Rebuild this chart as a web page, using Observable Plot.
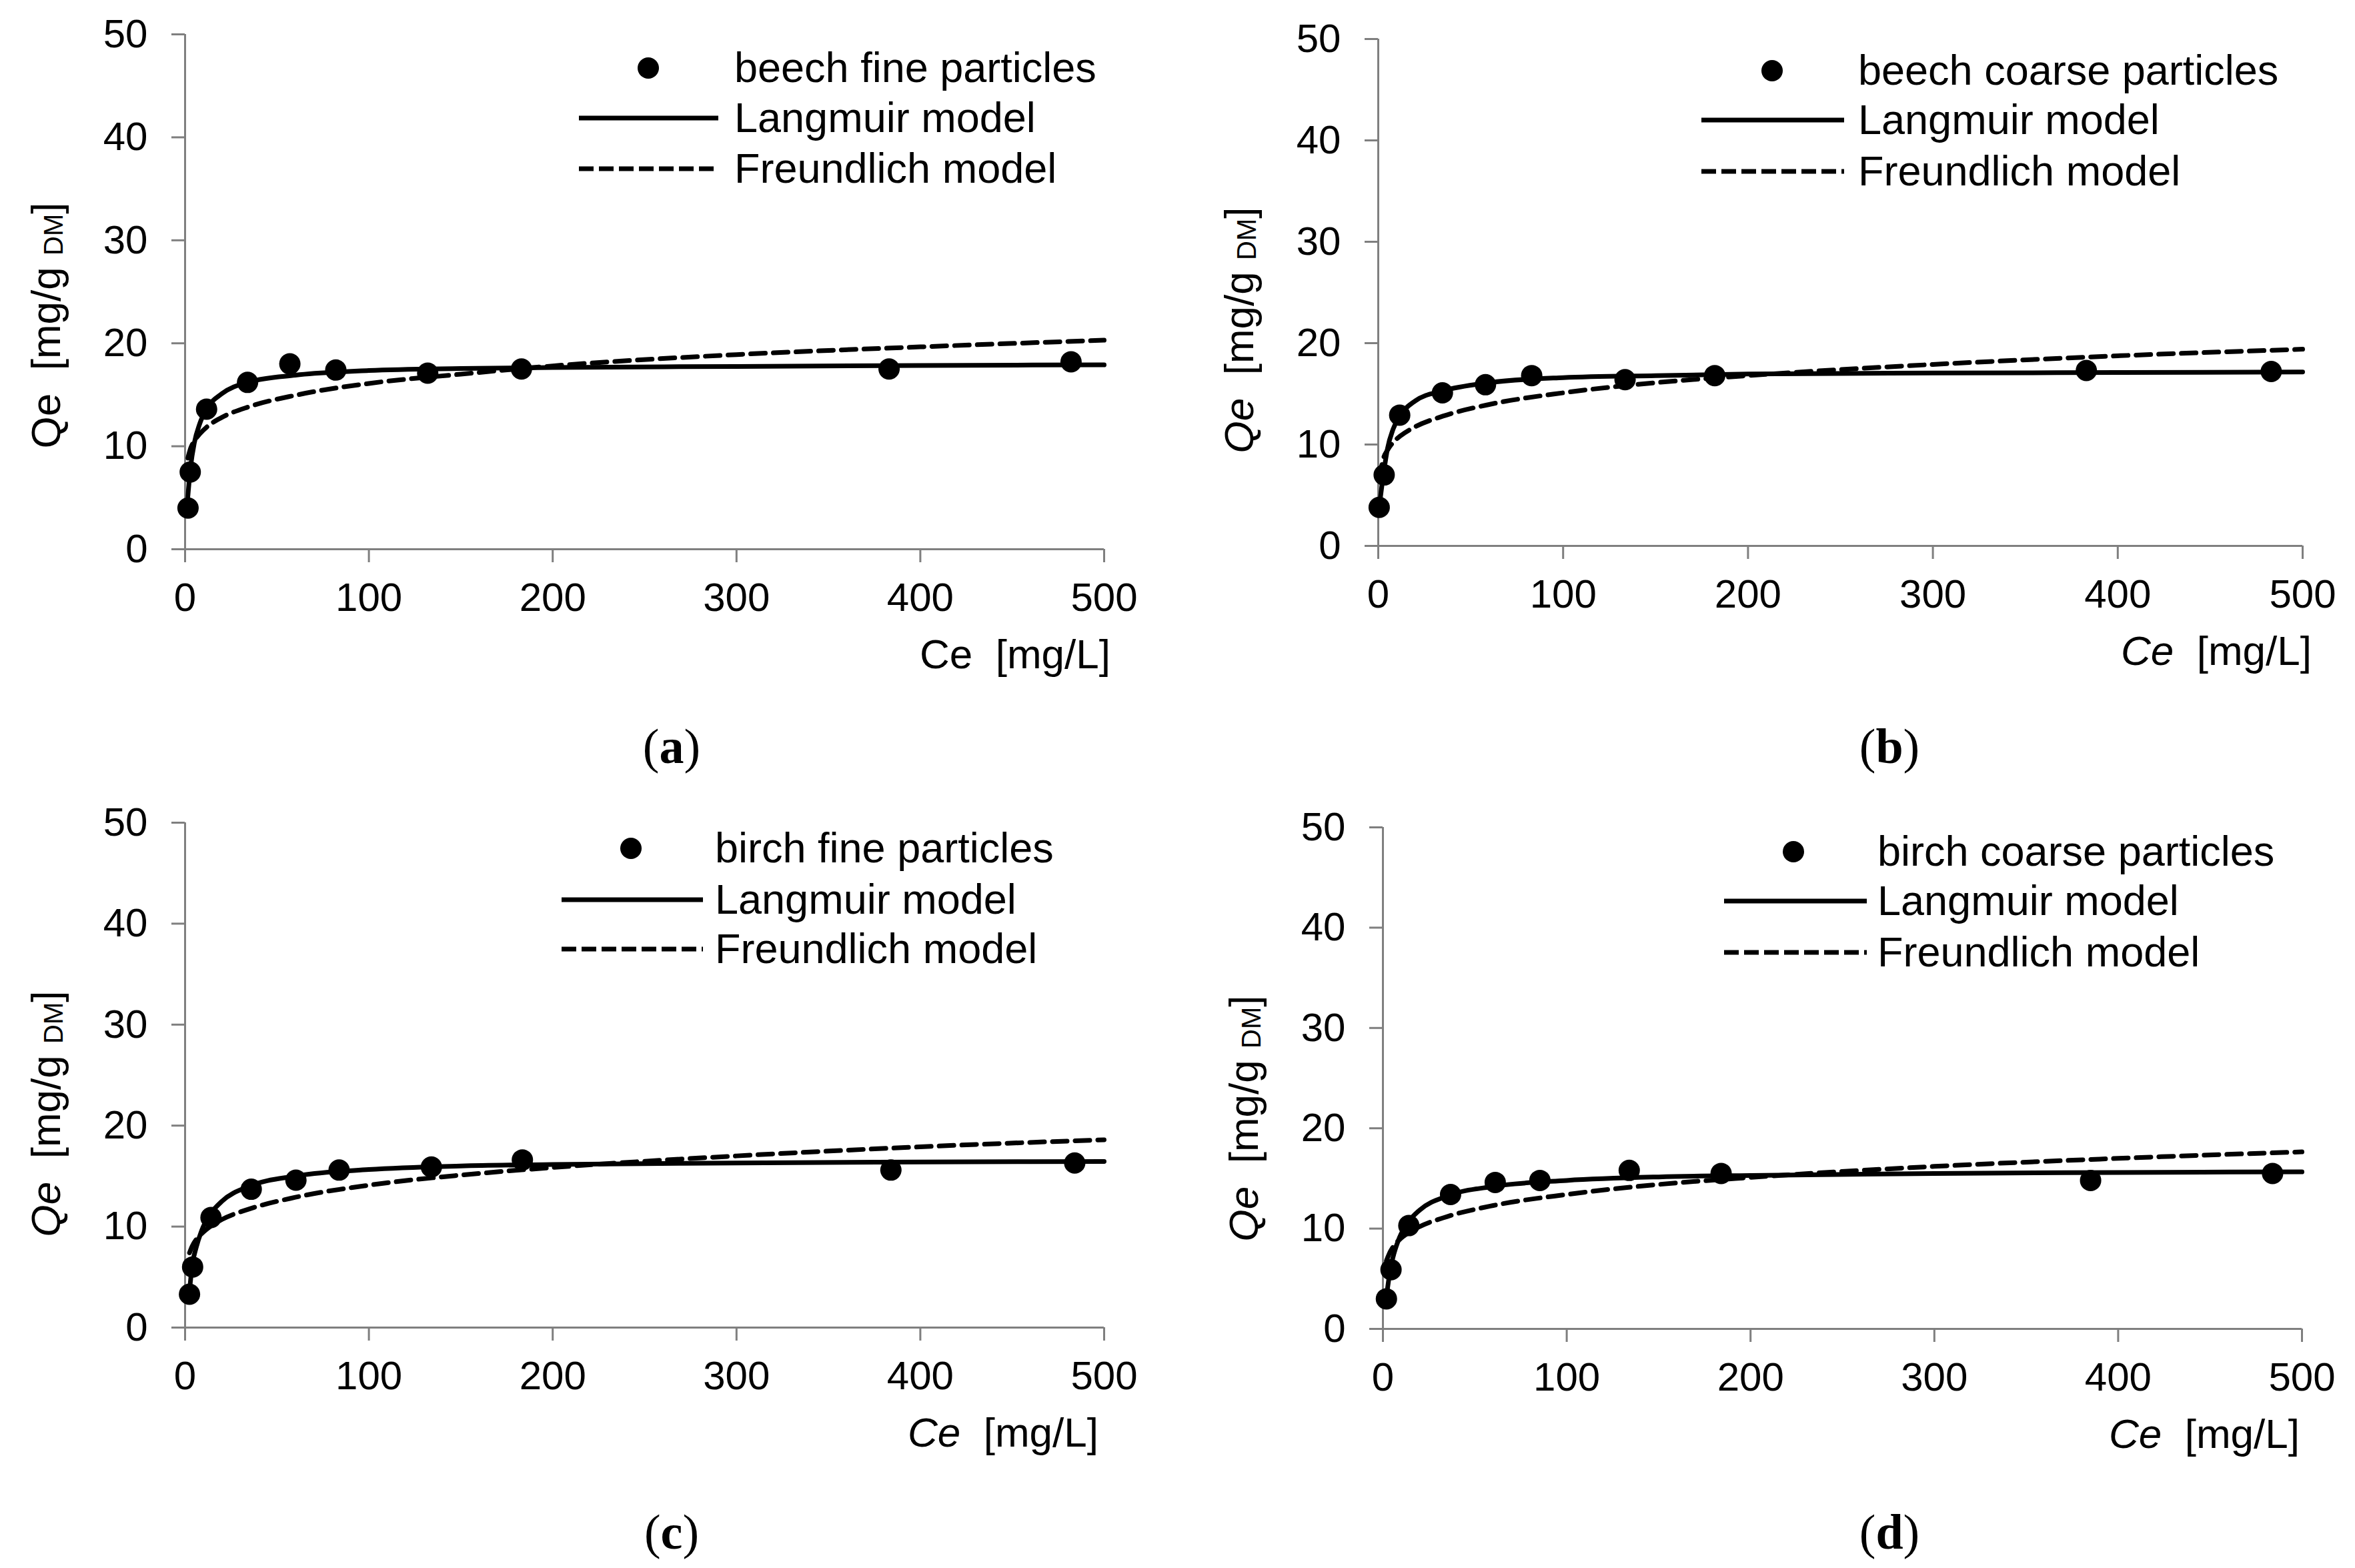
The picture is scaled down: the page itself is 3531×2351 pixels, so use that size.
<!DOCTYPE html>
<html>
<head>
<meta charset="utf-8">
<script src="https://cdn.jsdelivr.net/npm/d3@7"></script>
<script src="https://cdn.jsdelivr.net/npm/@observablehq/plot@0.6"></script>
<style>
html, body { margin: 0; padding: 0; background: #fff; }
#fig { position: relative; width: 3531px; height: 2351px; background: #fff; font-family: "Liberation Sans", Arial, sans-serif; }
#fig svg { position: absolute; overflow: visible; }
</style>
</head>
<body>
<div id="fig"></div>
<script>
// ---- shared axis ticks ----
const tickX = [0, 100, 200, 300, 400, 500];
const tickY = [0, 10, 20, 30, 40, 50];

// ---- (a) beech fine particles ----
const aName = "beech fine particles";
const aPointC = [1.6, 2.8, 11.7, 34, 57, 82, 132, 183, 383, 482];
const aPointQ = [4.0, 7.5, 13.6, 16.2, 18.0, 17.4, 17.1, 17.5, 17.5, 18.2];
const aModelC = [1.5, 3, 5, 8, 12, 20, 35, 60, 100, 150, 200, 300, 400, 500];
const aLangmuir = [5.1, 8.0, 10.3, 12.2, 13.7, 15.1, 16.25, 16.9, 17.35, 17.55, 17.65, 17.75, 17.85, 17.9];
const aFreundlich = [8.85, 9.8, 10.5, 11.2, 11.9, 12.8, 13.85, 14.95, 16.1, 17.0, 17.8, 18.9, 19.65, 20.3];

// ---- (b) beech coarse particles ----
const bName = "beech coarse particles";
const bPointC = [0.5, 3.2, 11.6, 34.7, 58, 83, 133.5, 182, 383, 483];
const bPointQ = [3.8, 7.0, 12.9, 15.1, 15.9, 16.8, 16.4, 16.8, 17.3, 17.2];
const bModelC = [0.5, 3, 5, 8, 12, 20, 35, 60, 100, 150, 200, 300, 400, 500];
const bLangmuir = [3.8, 7.3, 9.6, 11.5, 12.9, 14.3, 15.3, 16.1, 16.6, 16.8, 16.95, 17.05, 17.1, 17.15];
const bFreundlich = [6.6, 8.75, 9.45, 10.2, 10.85, 11.75, 12.8, 13.95, 15.1, 16.1, 16.8, 17.9, 18.75, 19.4];

// ---- (c) birch fine particles ----
const cName = "birch fine particles";
const cPointC = [2.4, 4.1, 14.1, 36, 60.3, 83.8, 134, 183.5, 384, 484];
const cPointQ = [3.3, 6.0, 10.9, 13.7, 14.6, 15.6, 15.9, 16.6, 15.6, 16.3];
const cModelC = [2.4, 4, 6, 9, 14, 20, 35, 60, 100, 150, 200, 300, 400, 500];
const cLangmuir = [3.6, 6.3, 7.9, 9.6, 11.3, 12.5, 14.0, 15.0, 15.65, 16.0, 16.15, 16.3, 16.4, 16.45];
const cFreundlich = [7.4, 8.1, 8.7, 9.3, 10.05, 10.7, 11.75, 12.9, 14.1, 15.1, 15.85, 17.0, 17.9, 18.6];

// ---- (d) birch coarse particles ----
const dName = "birch coarse particles";
const dPointC = [1.9, 4.4, 14.1, 36.8, 61.1, 85.4, 134, 184, 385, 484];
const dPointQ = [3.0, 5.9, 10.3, 13.4, 14.6, 14.8, 15.8, 15.5, 14.8, 15.5];
const dModelC = [1.9, 4, 6, 9, 14, 20, 35, 60, 100, 150, 200, 300, 400, 500];
const dLangmuir = [3.2, 5.9, 7.5, 9.1, 10.7, 11.85, 13.25, 14.2, 14.8, 15.15, 15.3, 15.5, 15.6, 15.65];
const dFreundlich = [6.8, 7.7, 8.3, 8.9, 9.6, 10.2, 11.2, 12.3, 13.4, 14.4, 15.1, 16.2, 17.0, 17.65];

const legendLangmuir = "Langmuir model";
const legendFreundlich = "Freundlich model";
const panelLetters = ["a", "b", "c", "d"];

// ---- layout (absolute pixel positions in the figure) ----
const panels = [
  { letter: panelLetters[0], name: aName, pc: aPointC, pq: aPointQ, mc: aModelC, lang: aLangmuir, freu: aFreundlich, italic: false,
    box: [0, 0, 1765, 1175], frame: [277, 1655, 51, 823],
    legend: { dotX: 972, rows: [102, 177, 253], line: [868, 1077], textX: 1101 },
    xTitleRight: 1665, label: [1007, 1144] },
  { letter: panelLetters[1], name: bName, pc: bPointC, pq: bPointQ, mc: bModelC, lang: bLangmuir, freu: bFreundlich, italic: true,
    box: [1765, 0, 1766, 1175], frame: [2066, 3452, 58, 818],
    legend: { dotX: 2657, rows: [106, 180, 257], line: [2551, 2765], textX: 2786 },
    xTitleRight: 3466, label: [2833, 1144] },
  { letter: panelLetters[2], name: cName, pc: cPointC, pq: cPointQ, mc: cModelC, lang: cLangmuir, freu: cFreundlich, italic: true,
    box: [0, 1175, 1765, 1176], frame: [277, 1655, 1233, 1990],
    legend: { dotX: 946, rows: [1272, 1349, 1423], line: [842, 1054], textX: 1072 },
    xTitleRight: 1647, label: [1007, 2322] },
  { letter: panelLetters[3], name: dName, pc: dPointC, pq: dPointQ, mc: dModelC, lang: dLangmuir, freu: dFreundlich, italic: true,
    box: [1765, 1175, 1766, 1176], frame: [2073, 3451, 1240, 1992],
    legend: { dotX: 2689, rows: [1277, 1351, 1428], line: [2585, 2799], textX: 2815 },
    xTitleRight: 3448, label: [2833, 2322] }
];

const AXIS = "#7f7f7f";
const FONT = "'Liberation Sans', Arial, sans-serif";
const fig = document.getElementById("fig");

for (const p of panels) {
  const [bx, by, bw, bh] = p.box;
  const [fl, fr, ft, fb] = p.frame;
  const pts = p.pc.map((c, i) => ({ c, q: p.pq[i] }));
  const lang = p.mc.map((c, i) => ({ c, q: p.lang[i] }));
  const freu = p.mc.map((c, i) => ({ c, q: p.freu[i] }));

  const svg = Plot.plot({
    width: bw,
    height: bh,
    marginLeft: fl - bx,
    marginRight: bx + bw - fr,
    marginTop: ft - by,
    marginBottom: by + bh - fb,
    x: { domain: [0, 500], label: null },
    y: { domain: [0, 50], label: null },
    style: { fontFamily: FONT, fontSize: "60px", color: "#000", background: "transparent", overflow: "visible" },
    marks: [
      Plot.axisX(tickX, { tickSize: 20, tickPadding: 30, stroke: AXIS, strokeWidth: 3, fill: "#000", fontSize: 60, label: null }),
      Plot.axisY(tickY, { tickSize: 20, tickPadding: 36, stroke: AXIS, strokeWidth: 3, fill: "#000", fontSize: 60, label: null }),
      Plot.ruleY([0], { stroke: AXIS, strokeWidth: 3 }),
      Plot.ruleX([0], { stroke: AXIS, strokeWidth: 3 }),
      Plot.line(freu, { x: "c", y: "q", curve: "monotone-x", stroke: "#000", strokeWidth: 7, strokeDasharray: "22,12" }),
      Plot.line(lang, { x: "c", y: "q", curve: "monotone-x", stroke: "#000", strokeWidth: 7 }),
      Plot.dot(pts, { x: "c", y: "q", r: 16, fill: "#000", stroke: "none" })
    ]
  });
  svg.style.left = bx + "px";
  svg.style.top = by + "px";

  const s = d3.select(svg);
  const g = s.append("g").attr("font-family", FONT).attr("fill", "#000").attr("text-anchor", "start");

  // legend
  const L = p.legend;
  const r = (v) => v - by;
  const c = (v) => v - bx;
  g.append("circle").attr("cx", c(L.dotX)).attr("cy", r(L.rows[0])).attr("r", 16).attr("fill", "#000");
  g.append("line").attr("x1", c(L.line[0])).attr("x2", c(L.line[1])).attr("y1", r(L.rows[1])).attr("y2", r(L.rows[1]))
    .attr("stroke", "#000").attr("stroke-width", 7);
  g.append("line").attr("x1", c(L.line[0])).attr("x2", c(L.line[1])).attr("y1", r(L.rows[2])).attr("y2", r(L.rows[2]))
    .attr("stroke", "#000").attr("stroke-width", 7).attr("stroke-dasharray", "22,8");
  [p.name, legendLangmuir, legendFreundlich].forEach((t, i) => {
    g.append("text").attr("x", c(L.textX)).attr("y", r(L.rows[i]) + 21)
      .attr("text-anchor", "start").attr("font-size", 63).text(t);
  });

  // x-axis title
  const xt = g.append("text").attr("x", c(p.xTitleRight)).attr("y", r(fb + 179))
    .attr("text-anchor", "end").attr("font-size", 62);
  xt.append("tspan").attr("font-style", p.italic ? "italic" : "normal").text("Ce");
  xt.append("tspan").text("\u00a0\u00a0[mg/L]");

  // y-axis title (rotated)
  const yt = g.append("text")
    .attr("transform", `translate(${c(fl - 187)},${r(ft + 437)}) rotate(-90)`)
    .attr("text-anchor", "middle").attr("font-size", 62);
  yt.append("tspan").attr("font-style", p.italic ? "italic" : "normal").text("Qe");
  yt.append("tspan").text("\u00a0\u00a0[mg/g\u00a0");
  yt.append("tspan").attr("font-size", 40).attr("dy", 4).text("DM");
  yt.append("tspan").attr("dy", -4).text("]");

  // panel label (a) etc.
  const pl = g.append("text").attr("x", c(p.label[0])).attr("y", r(p.label[1]))
    .attr("text-anchor", "middle").attr("font-size", 74)
    .attr("font-family", "'Liberation Serif', 'DejaVu Serif', serif");
  pl.append("tspan").text("(");
  pl.append("tspan").attr("font-weight", "bold").text(p.letter);
  pl.append("tspan").text(")");

  fig.appendChild(svg);
}
</script>
</body>
</html>
